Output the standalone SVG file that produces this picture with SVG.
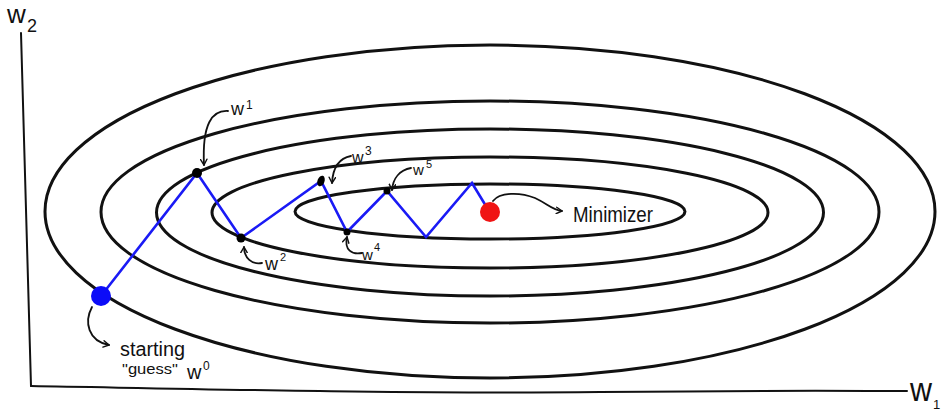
<svg xmlns="http://www.w3.org/2000/svg" width="943" height="411" viewBox="0 0 943 411">
<style>
.contour{fill:none;stroke:#111;stroke-width:3}
.axis{fill:none;stroke:#111;stroke-width:2;stroke-linecap:round}
.step{fill:none;stroke:#1a1af5;stroke-width:2.6;stroke-linejoin:miter}
.pt{fill:#000}
.callout{fill:none;stroke:#111;stroke-width:1.8;stroke-linecap:round}
.lbl{font-family:"Liberation Sans","DejaVu Sans",sans-serif;fill:#111}
</style>
<defs>
<marker id="ah" viewBox="0 0 10 10" refX="8" refY="5" markerWidth="8" markerHeight="8" orient="auto" markerUnits="userSpaceOnUse">
<path d="M1,1 L8,5 L1,9" fill="none" stroke="#111" stroke-width="1.8" stroke-linecap="round" stroke-linejoin="round"/>
</marker>
</defs>
<rect width="943" height="411" fill="#fff"/>

<g id="axes">
<path class="axis" d="M21,33 Q25,200 31,386"/>
<path class="axis" d="M31,386 C200,389 400,394 600,392 S850,391 907,391"/>
<text class="lbl" x="7" y="23" font-size="26">w<tspan x="27" y="32" font-size="18">2</tspan></text>
<text class="lbl" x="910" y="401" font-size="34" textLength="22" lengthAdjust="spacingAndGlyphs">w</text>
<text class="lbl" x="933" y="409" font-size="13">1</text>
</g>

<g id="contours">
<ellipse class="contour" cx="490" cy="211.5" rx="445" ry="166.5"/>
<ellipse class="contour" cx="490" cy="212" rx="389" ry="111"/>
<ellipse class="contour" cx="490" cy="212.5" rx="333.5" ry="83.5"/>
<ellipse class="contour" cx="490" cy="212.5" rx="278" ry="55.5"/>
<ellipse class="contour" cx="490" cy="211.5" rx="195" ry="27.5"/>
</g>

<g id="connectors">
<path class="step" d="M101,296 L197,173 L241,238 L321,181 L347,232 L387,191 L426,237 L472,183 L489,211"/>
<path class="callout" d="M92,307 C84,322 88,341 109,345" marker-end="url(#ah)"/>
<path class="callout" d="M228,111 C212,110 202,124 204,165" marker-end="url(#ah)"/>
<path class="callout" d="M262,263 C252,265 244,258 244,247" marker-end="url(#ah)"/>
<path class="callout" d="M351,156 C340,158 333,166 332,183" marker-end="url(#ah)"/>
<path class="callout" d="M362,253 C352,255 344,250 347,237" marker-end="url(#ah)"/>
<path class="callout" d="M411,168 C400,170 393,178 392,190" marker-end="url(#ah)"/>
<path class="callout" d="M493,201 C500,192 520,192 535,198 C548,204 552,210 562,211" marker-end="url(#ah)"/>
</g>

<g id="w0">
<circle cx="101" cy="296" r="10" fill="#0c0cf8"/>
<text class="lbl" x="120" y="356" font-size="20" textLength="65" lengthAdjust="spacingAndGlyphs">starting</text>
<text class="lbl" x="122" y="374" font-size="15" textLength="56" lengthAdjust="spacingAndGlyphs">"guess"</text>
<text class="lbl" x="187" y="379" font-size="20">w<tspan x="203" y="370" font-size="12">0</tspan></text>
</g>

<g id="w1">
<circle class="pt" cx="197" cy="173" r="5"/>
<text class="lbl" x="231" y="115" font-size="18">w<tspan x="246" y="109" font-size="12">1</tspan></text>
</g>

<g id="w2">
<circle class="pt" cx="241" cy="238" r="4.5"/>
<text class="lbl" x="265" y="270" font-size="18">w<tspan x="280" y="261" font-size="11">2</tspan></text>
</g>

<g id="w3">
<ellipse class="pt" cx="321" cy="181" rx="3.5" ry="5.5" transform="rotate(20 321 181)"/>
<text class="lbl" x="352" y="163" font-size="16">w<tspan x="365" y="155" font-size="12">3</tspan></text>
</g>

<g id="w4">
<circle class="pt" cx="347" cy="232" r="3.5"/>
<text class="lbl" x="362" y="260" font-size="15">w<tspan x="374" y="251" font-size="11">4</tspan></text>
</g>

<g id="w5">
<circle class="pt" cx="387" cy="191" r="3.5"/>
<text class="lbl" x="413" y="175" font-size="15">w<tspan x="426" y="168" font-size="11">5</tspan></text>
</g>

<g id="minimizer">
<circle cx="490" cy="212" r="10" fill="#f01414"/>
<text class="lbl" x="573" y="222" font-size="22" textLength="80" lengthAdjust="spacingAndGlyphs">Minimizer</text>
</g>
</svg>
